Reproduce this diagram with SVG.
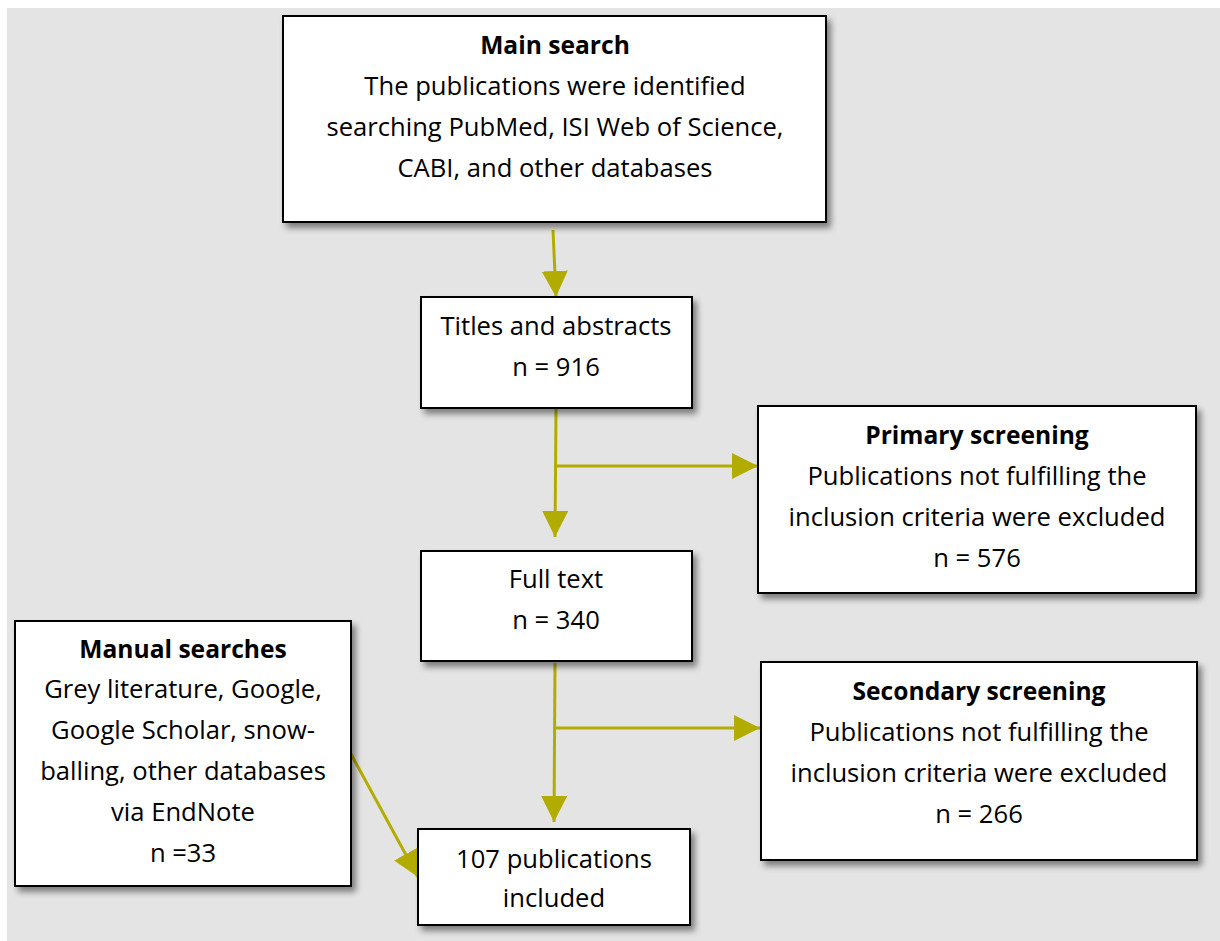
<svg xmlns="http://www.w3.org/2000/svg" width="1220" height="941" viewBox="0 0 1220 941">
<defs>
<style>
.box{fill:#fff;stroke:#000;stroke-width:2;filter:url(#sh)}
.t{font-family:"Open Sans",Lato,"Liberation Sans",sans-serif;font-size:25.6px;fill:#000;text-anchor:middle}
.b{font-weight:bold;font-size:24.6px}
.c{stroke:#b3ac00;stroke-width:3;fill:none}
</style>
<filter id="sh" x="-10%" y="-10%" width="130%" height="130%">
<feDropShadow dx="4" dy="5" stdDeviation="3" flood-color="#000" flood-opacity="0.45"/>
</filter>
<marker id="ah" markerUnits="userSpaceOnUse" markerWidth="26" markerHeight="26" refX="26" refY="13" orient="auto">
<path d="M0,0 L26,13 L0,26 z" fill="#b3ac00"/>
</marker>
</defs>
<rect x="7" y="8" width="1213" height="933" fill="#e4e4e4"/>
<g id="connectors">
<line class="c" x1="553" y1="230" x2="556" y2="297" marker-end="url(#ah)"/>
<line class="c" x1="556" y1="408" x2="555" y2="537" marker-end="url(#ah)"/>
<line class="c" x1="556" y1="466" x2="758" y2="466" marker-end="url(#ah)"/>
<line class="c" x1="555" y1="663" x2="554" y2="822" marker-end="url(#ah)"/>
<line class="c" x1="556" y1="728" x2="760" y2="728" marker-end="url(#ah)"/>
<line class="c" x1="351" y1="754" x2="418" y2="877" marker-end="url(#ah)"/>
</g>
<g id="main-search">
<rect class="box" x="283" y="16" width="543" height="206"/>
<text class="t b" x="555" y="54">Main search</text>
<text class="t" x="555" y="95">The publications were identified</text>
<text class="t" x="555" y="136">searching PubMed, ISI Web of Science,</text>
<text class="t" x="555" y="177">CABI, and other databases</text>
</g>
<g id="titles">
<rect class="box" x="421" y="297" width="271" height="111"/>
<text class="t" x="556" y="335">Titles and abstracts</text>
<text class="t" x="556" y="376">n = 916</text>
</g>
<g id="primary">
<rect class="box" x="758" y="406" width="438" height="187"/>
<text class="t b" x="977" y="444">Primary screening</text>
<text class="t" x="977" y="485">Publications not fulfilling the</text>
<text class="t" x="977" y="526">inclusion criteria were excluded</text>
<text class="t" x="977" y="567">n = 576</text>
</g>
<g id="fulltext">
<rect class="box" x="421" y="551" width="271" height="110"/>
<text class="t" x="556" y="588">Full text</text>
<text class="t" x="556" y="629">n = 340</text>
</g>
<g id="manual">
<rect class="box" x="15" y="621" width="336" height="265"/>
<text class="t b" x="183" y="658">Manual searches</text>
<text class="t" x="183" y="698">Grey literature, Google,</text>
<text class="t" x="183" y="739">Google Scholar, snow-</text>
<text class="t" x="183" y="780">balling, other databases</text>
<text class="t" x="183" y="821">via EndNote</text>
<text class="t" x="183" y="862">n =33</text>
</g>
<g id="secondary">
<rect class="box" x="761" y="662" width="436" height="198"/>
<text class="t b" x="979" y="700">Secondary screening</text>
<text class="t" x="979" y="741">Publications not fulfilling the</text>
<text class="t" x="979" y="782">inclusion criteria were excluded</text>
<text class="t" x="979" y="823">n = 266</text>
</g>
<g id="included">
<rect class="box" x="418" y="829" width="272" height="96"/>
<text class="t" x="554" y="868">107 publications</text>
<text class="t" x="554" y="907">included</text>
</g>
</svg>
